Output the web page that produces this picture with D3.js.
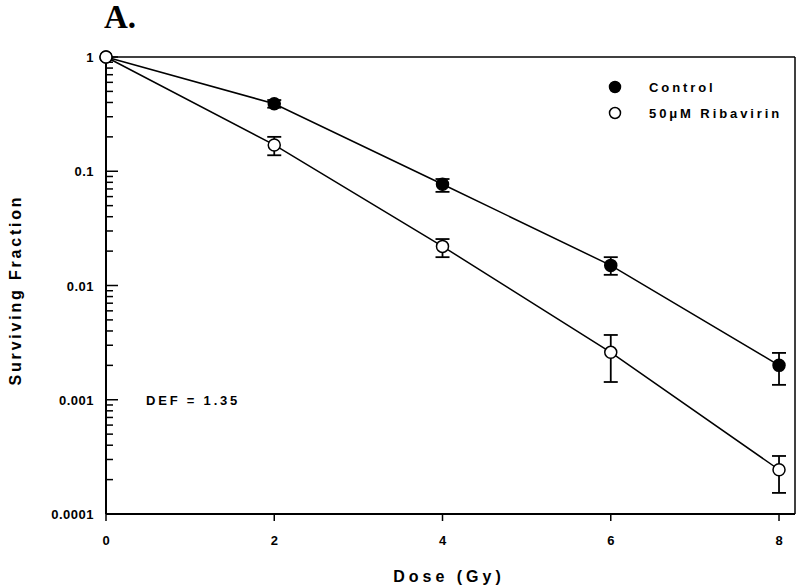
<!DOCTYPE html>
<html>
<head>
<meta charset="utf-8">
<script src="https://cdn.jsdelivr.net/npm/d3@7"></script>
<style>
  body { margin: 0; background: #fff; }
  text { font-family: "Liberation Sans", Arial, sans-serif; font-weight: bold; fill: #000; }
</style>
</head>
<body>
<svg id="chart" width="800" height="588"></svg>
<script>
// data
var doses = [0, 2, 4, 6, 8];
var controlMean = [1, 0.39, 0.077, 0.015, 0.0020];
var controlHi   = [1, 0.42, 0.0855, 0.0177, 0.00257];
var controlLo   = [1, 0.36, 0.066, 0.0124, 0.00135];
var ribaMean = [1, 0.17, 0.022, 0.0026, 0.000244];
var ribaHi   = [1, 0.20, 0.0255, 0.00369, 0.000322];
var ribaLo   = [1, 0.138, 0.0177, 0.00143, 0.000153];
var xTicks = [0, 2, 4, 6, 8];
var yTicks = [1, 0.1, 0.01, 0.001, 0.0001];
var yTickLabels = ["1", "0.1", "0.01", "0.001", "0.0001"];

var svg = d3.select("#chart");
var pL = 106, pR = 795, pT = 57, pB = 514;

var x = d3.scaleLinear().domain([0, 8.19]).range([pL, pR]);
var y = d3.scaleLog().domain([0.0001, 1]).range([pB, pT]);

// frame
svg.append("line").attr("x1", pL).attr("x2", pR).attr("y1", pT).attr("y2", pT)
  .attr("stroke", "#000").attr("stroke-width", 1.5);
svg.append("line").attr("x1", pR).attr("x2", pR).attr("y1", pT).attr("y2", pB)
  .attr("stroke", "#000").attr("stroke-width", 1.5);

// x axis
svg.append("line").attr("x1", pL).attr("x2", pR).attr("y1", pB).attr("y2", pB)
  .attr("stroke", "#000").attr("stroke-width", 2);
xTicks.forEach(function(t) {
  svg.append("line").attr("x1", x(t)).attr("x2", x(t)).attr("y1", pB).attr("y2", pB + 7)
    .attr("stroke", "#000").attr("stroke-width", 1.5);
  svg.append("text").attr("x", x(t)).attr("y", pB + 31).attr("text-anchor", "middle")
    .style("font-size", "13px").text(t);
});

// y axis
svg.append("line").attr("x1", pL).attr("x2", pL).attr("y1", pT).attr("y2", pB)
  .attr("stroke", "#000").attr("stroke-width", 2);
yTicks.forEach(function(t, i) {
  svg.append("line").attr("x1", pL).attr("x2", pL + 12).attr("y1", y(t)).attr("y2", y(t))
    .attr("stroke", "#000").attr("stroke-width", 1.5);
  svg.append("text").attr("x", pL - 12).attr("y", y(t) + 5).attr("text-anchor", "end")
    .style("font-size", "13px").style("letter-spacing", "0.5px").text(yTickLabels[i]);
  if (t < 1) {
    for (var m = 2; m <= 9; m++) {
      svg.append("line").attr("x1", pL).attr("x2", pL + 7).attr("y1", y(t * m)).attr("y2", y(t * m))
        .attr("stroke", "#000").attr("stroke-width", 1.5);
    }
  }
});

// axis titles
svg.append("text").attr("x", 449).attr("y", 582).attr("text-anchor", "middle")
  .style("font-size", "16px").style("letter-spacing", "4px").text("Dose (Gy)");
svg.append("text").attr("transform", "translate(21," + 290 + ") rotate(-90)")
  .attr("text-anchor", "middle").style("font-size", "16px").style("letter-spacing", "2.8px")
  .text("Surviving Fraction");

// panel label
svg.append("text").attr("x", 104).attr("y", 28)
  .style("font-family", "'Liberation Serif', 'Times New Roman', serif")
  .style("font-size", "33px").text("A.");

svg.append("text").attr("x", 146).attr("y", 405).style("font-size", "13px")
  .style("letter-spacing", "2.8px").text("DEF = 1.35");

var line = d3.line().x(function(d) { return x(d[0]); }).y(function(d) { return y(d[1]); });

function drawSeries(mean, hi, lo, fill) {
  var pts = doses.map(function(d, i) { return [d, mean[i]]; });
  svg.append("path").attr("d", line(pts)).attr("fill", "none")
    .attr("stroke", "#000").attr("stroke-width", 1.5);
  doses.forEach(function(d, i) {
    if (hi[i] == lo[i]) return;
    var g = svg.append("g").attr("stroke", "#000").attr("stroke-width", 1.8);
    g.append("line").attr("x1", x(d)).attr("x2", x(d)).attr("y1", y(hi[i])).attr("y2", y(lo[i]));
    g.append("line").attr("x1", x(d) - 7).attr("x2", x(d) + 7).attr("y1", y(hi[i])).attr("y2", y(hi[i]));
    g.append("line").attr("x1", x(d) - 7).attr("x2", x(d) + 7).attr("y1", y(lo[i])).attr("y2", y(lo[i]));
  });
  svg.append("g").selectAll("circle").data(pts).enter().append("circle")
    .attr("cx", function(d) { return x(d[0]); })
    .attr("cy", function(d) { return y(d[1]); })
    .attr("r", 6).attr("fill", fill).attr("stroke", "#000").attr("stroke-width", 1.5);
}

drawSeries(controlMean, controlHi, controlLo, "#000");
drawSeries(ribaMean, ribaHi, ribaLo, "#fff");

// legend
var legend = [["Control", "#000"], ["50\u03BCM Ribavirin", "#fff"]];
legend.forEach(function(l, i) {
  svg.append("circle").attr("cx", 615).attr("cy", 87 + i * 26).attr("r", 5.5)
    .attr("fill", l[1]).attr("stroke", "#000").attr("stroke-width", 1.5);
  svg.append("text").attr("x", 649).attr("y", 92 + i * 26).style("font-size", "13px")
    .style("letter-spacing", "2.9px").text(l[0]);
});
</script>
</body>
</html>
